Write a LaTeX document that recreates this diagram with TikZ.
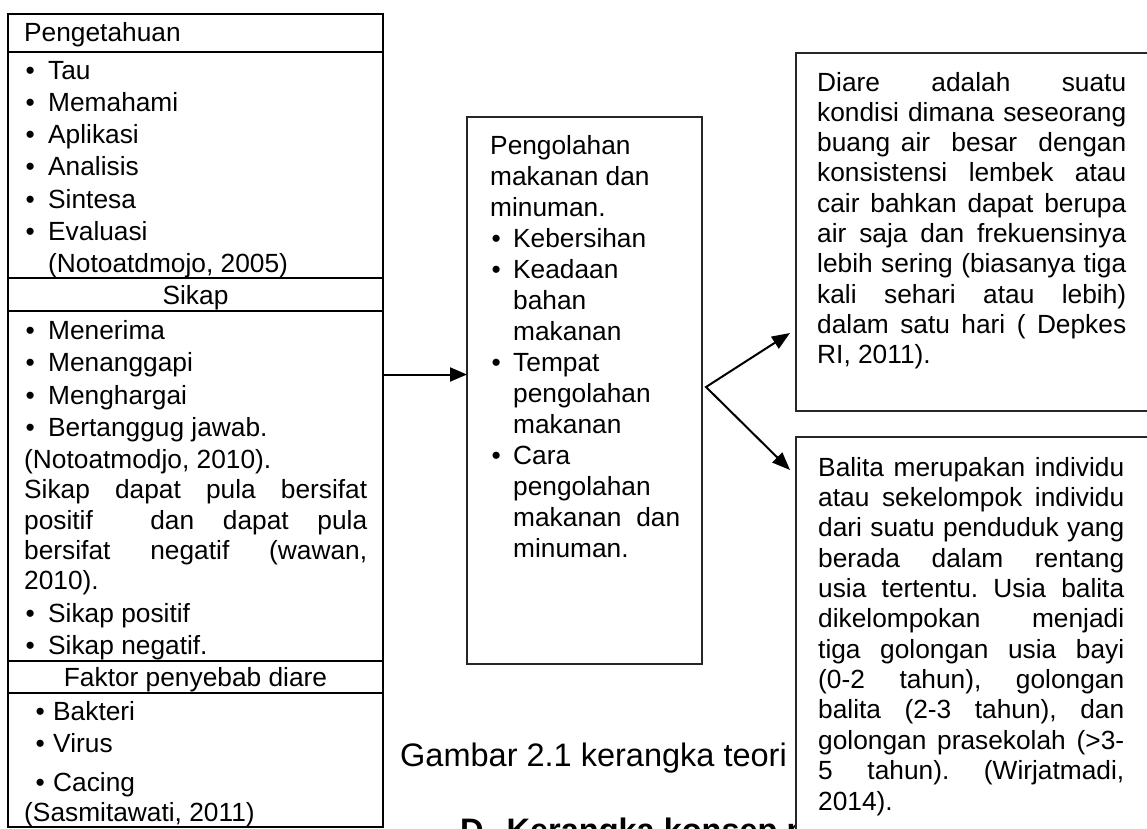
\documentclass[tikz,border=0pt]{standalone}
\usepackage{fontspec}
\setmainfont{Liberation Sans}
\usetikzlibrary{arrows.meta,positioning,calc}
\frenchspacing
\newcommand\boxfont{\fontsize{26.3}{31}\selectfont}
\newcommand\bodyfont{\fontsize{32.5}{38}\selectfont}
\newcommand\bul[2]{\makebox[#1][l]{\textbullet}#2}
\newcommand\jline[2]{\makebox[#1][s]{#2}}

\begin{document}
\begin{tikzpicture}[x=1pt,y=-1pt,
    sect/.style={draw,line width=2pt,minimum width=375pt,inner sep=0pt,outer sep=0pt},
    box/.style={draw=black!85,line width=1.6pt,fill=white,inner sep=0pt,outer sep=0pt,anchor=north west},
    txt/.style={font=\boxfont,inner sep=0pt,anchor=base west},
    arr/.style={line width=2pt,-{Triangle[length=17pt,width=14pt]}},
    fork/.style={line width=2pt,{Triangle[length=18pt,width=14pt]}-{Triangle[length=18pt,width=14pt]}}]
    \useasboundingbox (0,0) rectangle (1147,828);
    \clip (0,0) rectangle (1147,828);

    % left column
    \node[sect,minimum height=38pt,anchor=north west] (pengHead) at (8,14) {};
    \node[sect,minimum height=226pt,below=0pt of pengHead] (pengList) {};
    \node[sect,minimum height=33pt,below=0pt of pengList] (sikapHead) {};
    \node[sect,minimum height=350pt,below=0pt of sikapHead] (sikapList) {};
    \node[sect,minimum height=32pt,below=0pt of sikapList] (faktorHead) {};
    \node[sect,minimum height=134pt,below=0pt of faktorHead] (faktorList) {};

    \node[txt] (pengTitle) at (24,41) {Pengetahuan};
    \foreach \t [count=\i from 0] in {Tau,Memahami,Aplikasi,Analisis,Sintesa,Evaluasi}
      \node[txt] (peng\i) at (25.4,79+32.3*\i) {\bul{22.6pt}{\t}};
    \node[txt] (pengRef) at (48,272.8) {(Notoatdmojo, 2005)};

    \node[txt,anchor=base] (sikapTitle) at (sikapHead.center |- 0,304) {Sikap};
    \foreach \t [count=\i from 0] in {Menerima,Menanggapi,Menghargai,Bertanggug jawab.}
      \node[txt] (sikap\i) at (25.4,339+32.5*\i) {\bul{22.6pt}{\t}};
    \node[txt] (sikapRef) at (24,468) {(Notoatmodjo, 2010).};
    \node[txt] (sikapPar1) at (24,498) {\jline{343pt}{Sikap dapat pula bersifat}};
    \node[txt] (sikapPar2) at (24,529) {\jline{343pt}{positif\ \ dan dapat pula}};
    \node[txt] (sikapPar3) at (24,559) {\jline{343pt}{bersifat negatif (wawan,}};
    \node[txt] (sikapPar4) at (24,589) {2010).};
    \node[txt] (sikapPos) at (25.4,622) {\bul{22.6pt}{Sikap positif}};
    \node[txt] (sikapNeg) at (25.4,654) {\bul{22.6pt}{Sikap negatif.}};

    \node[txt,anchor=base] (faktorTitle) at (faktorHead.center |- 0,686) {Faktor penyebab diare};
    \foreach \t/\y in {Bakteri/720,Virus/752,Cacing/791}
      \node[txt] (faktor\t) at (35.4,\y) {\bul{17.6pt}{\t}};
    \node[txt] (faktorRef) at (24,821) {(Sasmitawati, 2011)};

    % middle column
    \node[box,minimum width=235pt,minimum height=547pt] (midBox) at (467,117) {};
    \foreach \t/\y in {Pengolahan/154,makanan dan/185,minuman./216}
      \node[txt] (midPar\y) at (490,\y) {\t};
    \foreach \t/\y in {Kebersihan/247,Keadaan/278,Tempat/371,Cara/464}
      \node[txt] (midItem\y) at (491.4,\y) {\bul{21.6pt}{\t}};
    \foreach \t/\y in {bahan/309,makanan/340,pengolahan/402,makanan/433,pengolahan/495,minuman./557}
      \node[txt] (midCont\y) at (513,\y) {\t};
    \node[txt] (midCont526) at (513,526) {\jline{167pt}{makanan dan}};

    % caption lines under the figure
    \node[font=\bodyfont,inner sep=0pt,anchor=base west] (caption) at (400,766) {Gambar 2.1 kerangka teori};
    \node[font=\bodyfont\bfseries,inner sep=0pt,anchor=base west] (nextHead) at (460,841) {D.\hspace{14pt}Kerangka konsep p};

    % right column
    \node[box,minimum width=364pt,minimum height=358pt] (diareBox) at (796,53) {};
    \foreach \t [count=\i from 0] in {Diare adalah suatu,kondisi dimana seseorang,buang air\ \ besar\ \ dengan,konsistensi lembek atau,cair bahkan dapat berupa,air saja dan frekuensinya,lebih sering (biasanya tiga,kali sehari atau lebih),dalam satu hari ( Depkes}
      \node[txt] (diare\i) at (817,91+30.3*\i) {\jline{309pt}{\t}};
    \node[txt] (diare9) at (817,363.7) {RI, 2011).};

    \node[box,minimum width=364pt,minimum height=420pt] (balitaBox) at (796,437) {};
    \foreach \t [count=\i from 0] in {Balita merupakan individu,atau sekelompok individu,dari suatu penduduk yang,berada dalam rentang,usia tertentu. Usia balita,dikelompokan menjadi,tiga golongan usia bayi,(0-2 tahun){,} golongan,balita (2-3 tahun){,} dan,golongan prasekolah (>3-,5 tahun). (Wirjatmadi{,}}
      \node[txt] (balita\i) at (818,476+30.36*\i) {\jline{306pt}{\t}};
    \node[txt] (balita11) at (818,810) {2014).};

    % connectors
    \coordinate (inTip) at ([yshift=16pt]midBox.west);
    \draw[arr] (sikapList.east |- inTip) -- (inTip);
    \coordinate (forkPt) at ([xshift=4pt,yshift=3.5pt]midBox.east);
    \coordinate (tipUp) at (790,333);
    \coordinate (tipDown) at (790,470);
    \draw[fork] (tipUp) -- (forkPt) -- (tipDown);
\end{tikzpicture}
\end{document}
